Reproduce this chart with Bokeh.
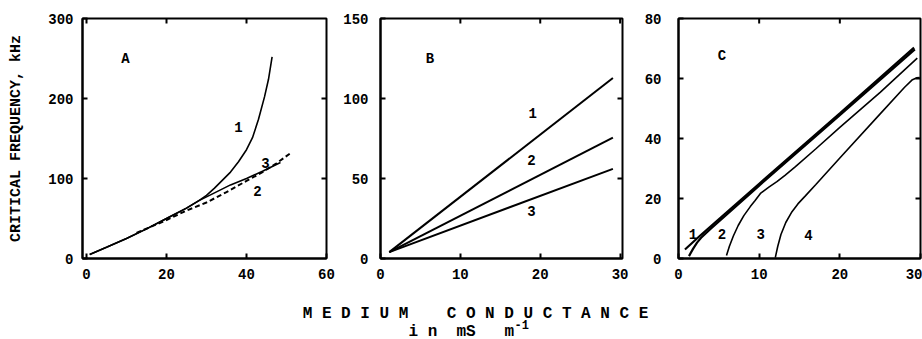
import math
from bokeh.plotting import figure
from bokeh.models import Range1d, FixedTicker, Label
from bokeh.layouts import row, column
from bokeh.embed import file_html
from bokeh.resources import INLINE

FONT = "Liberation Mono"
NB = "\u00a0"

# ---------------- Panel A ----------------
a_x1 = [0.8, 5, 10, 15, 20, 25, 28, 30, 32, 34, 36, 38, 40, 41.5, 43, 44.5, 45.5, 46.4]
a_y1 = [5, 14, 25, 37, 50, 63, 72, 79, 88, 98, 108, 121, 136, 151, 174, 202, 224, 252]
a_x3 = [0.8, 5, 10, 15, 20, 25, 28, 32, 36, 40, 44, 48.5]
a_y3 = [5, 14, 25, 37, 50, 63, 72, 82, 92, 100, 109, 120]
a_x2 = [12.5, 20, 25, 30, 35, 40, 44, 47.5, 50.8]
a_y2 = [32, 48, 60, 70, 83, 97, 108, 119, 131]
a_xticks = [0, 20, 40, 60]
a_yticks = [0, 100, 200, 300]
a_labels = ["A", "1", "3", "2"]
a_lx = [9.75, 38, 44.75, 42.75]
a_ly = [250, 164, 120, 85]

# ---------------- Panel B ----------------
b_x = [1.1, 29.1]
b_y1 = [4, 112.8]
b_y2 = [4, 75.5]
b_y3 = [4, 56]
b_xticks = [0, 10, 20, 30]
b_yticks = [0, 50, 100, 150]
b_labels = ["B", "1", "2", "3"]
b_lx = [6.2, 19.05, 18.9, 18.9]
b_ly = [125, 91, 61.4, 29.4]

# ---------------- Panel C ----------------
c_x1 = [0.8, 2.8, 10, 20, 29.2]
c_y1 = [3.0, 7.9, 24.9, 48.4, 70.3]
c_x2 = [1.3, 1.8, 2.3, 2.8, 4, 10, 20, 29.3]
c_y2 = [0.8, 3.2, 5.3, 6.9, 9.9, 24.3, 47.8, 69.7]
c_x3 = [5.95, 6.3, 6.8, 7.4, 8.1, 8.9, 9.5, 10.2, 11.2, 12.2, 13.2, 14.5, 17, 20, 25, 29.6]
c_y3 = [1.0, 4.0, 7.5, 11.0, 14.3, 17.3, 19.3, 21.8, 23.8, 25.6, 27.7, 30.6, 36.5, 43.7, 55.4, 66.8]
c_x4 = [12.0, 12.3, 12.7, 13.3, 14.0, 14.8, 15.7, 17, 20, 25, 28, 29, 29.5, 29.9]
c_y4 = [0.3, 4.0, 8.0, 12.0, 15.3, 18.2, 20.8, 24.6, 33.5, 48.2, 57.0, 59.6, 60.2, 60.3]
c_xticks = [0, 10, 20, 30]
c_yticks = [0, 20, 40, 60, 80]
c_labels = ["C", "1", "2", "3", "4"]
c_lx = [5.4, 1.8, 5.4, 10.2, 16.1]
c_ly = [67.4, 8.3, 8.3, 8.3, 8.0]

x_title = NB.join("MEDIUM") + NB * 4 + NB.join("CONDUCTANCE")
x_unit = "i" + NB + "n" + NB * 2 + "mS" + NB * 3 + "m"
x_unit_sup = "-1"
y_title = "CRITICAL FREQUENCY, kHz"


def make_fig(width, xr, yr, xticks, yticks, bl, br, ystand):
    p = figure(width=width, height=286, x_range=Range1d(*xr), y_range=Range1d(*yr),
               output_backend="svg", toolbar_location=None,
               min_border_left=bl, min_border_right=br,
               min_border_top=18, min_border_bottom=28)
    p.grid.visible = False
    p.outline_line_color = "black"
    p.outline_line_width = 2
    for ax in p.axis:
        ax.major_tick_in = 5
        ax.major_tick_out = 0
        ax.minor_tick_in = 0
        ax.minor_tick_out = 0
        ax.major_tick_line_color = "black"
        ax.major_tick_line_width = 2
        ax.axis_line_color = "black"
        ax.axis_line_width = 2
        ax.major_label_text_font = FONT
        ax.major_label_text_font_style = "bold"
        ax.major_label_text_font_size = "14px"
        ax.major_label_text_color = "black"
    p.xaxis.ticker = FixedTicker(ticks=xticks)
    p.yaxis.ticker = FixedTicker(ticks=yticks)
    p.xaxis.major_label_standoff = 10
    p.yaxis.major_label_standoff = ystand
    # mirrored inward ticks on the right and top edges, placed via the plot scales
    inner_y = [t for t in yticks if yr[0] < t < yr[1]]
    inner_x = [t for t in xticks if xr[0] < t < xr[1]]
    p.ray(x=[xr[1]] * len(inner_y), y=inner_y, length=5, length_units="screen",
          angle=math.pi, line_color="black", line_width=2)
    p.ray(x=inner_x, y=[yr[1]] * len(inner_x), length=5, length_units="screen",
          angle=-math.pi / 2, line_color="black", line_width=2)
    return p


def add_labels(p, texts, xs, ys):
    for t, x, y in zip(texts, xs, ys):
        p.add_layout(Label(x=x, y=y, text=t, text_align="center", text_baseline="middle",
                           text_font=FONT, text_font_style="bold", text_font_size="14px",
                           text_color="black"))


# Panel A
pA = make_fig(340, (-1, 60), (0, 300), a_xticks, a_yticks, 82, 14, 9)
pA.line(a_x1, a_y1, line_color="black", line_width=1.6)
pA.line(a_x3, a_y3, line_color="black", line_width=1.6)
pA.line(a_x2, a_y2, line_color="black", line_width=2, line_dash="5 3")
add_labels(pA, a_labels, a_lx, a_ly)
pA.yaxis.axis_label = y_title
pA.yaxis.axis_label_text_font = FONT
pA.yaxis.axis_label_text_font_style = "bold"
pA.yaxis.axis_label_text_font_size = "15px"
pA.yaxis.axis_label_text_color = "black"
pA.yaxis.axis_label_standoff = 20

# Panel B
pB = make_fig(296, (0, 30.3), (0, 150), b_xticks, b_yticks, 38, 14, 12)
for yy in (b_y1, b_y2, b_y3):
    pB.line(b_x, yy, line_color="black", line_width=2)
add_labels(pB, b_labels, b_lx, b_ly)

# Panel C
pC = make_fig(286, (0, 30), (0, 80), c_xticks, c_yticks, 42, 2, 17)
pC.line(c_x1, c_y1, line_color="black", line_width=2.2)
pC.line(c_x2, c_y2, line_color="black", line_width=2.2)
pC.line(c_x3, c_y3, line_color="black", line_width=1.6)
pC.line(c_x4, c_y4, line_color="black", line_width=1.6)
add_labels(pC, c_labels, c_lx, c_ly)

# Bottom caption strip (page coordinates)
pT = figure(width=922, height=53, x_range=Range1d(0, 922), y_range=Range1d(339, 286),
            output_backend="svg", toolbar_location=None, x_axis_type=None, y_axis_type=None,
            min_border_left=0, min_border_right=0, min_border_top=0, min_border_bottom=0)
pT.grid.visible = False
pT.outline_line_color = None
pT.add_layout(Label(x=475, y=313, text=x_title,
                    text_align="center", text_baseline="middle", text_font=FONT,
                    text_font_style="bold", text_font_size="16px", text_color="black"))
pT.add_layout(Label(x=408, y=331, text=x_unit, text_align="left",
                    text_baseline="middle", text_font=FONT, text_font_style="bold",
                    text_font_size="16px", text_color="black"))
pT.add_layout(Label(x=514, y=324, text=x_unit_sup, text_align="left", text_baseline="middle",
                    text_font=FONT, text_font_style="bold", text_font_size="12px",
                    text_color="black"))

layout = column(row(pA, pB, pC), pT)
open("out.html", "w").write(file_html(layout, INLINE))
